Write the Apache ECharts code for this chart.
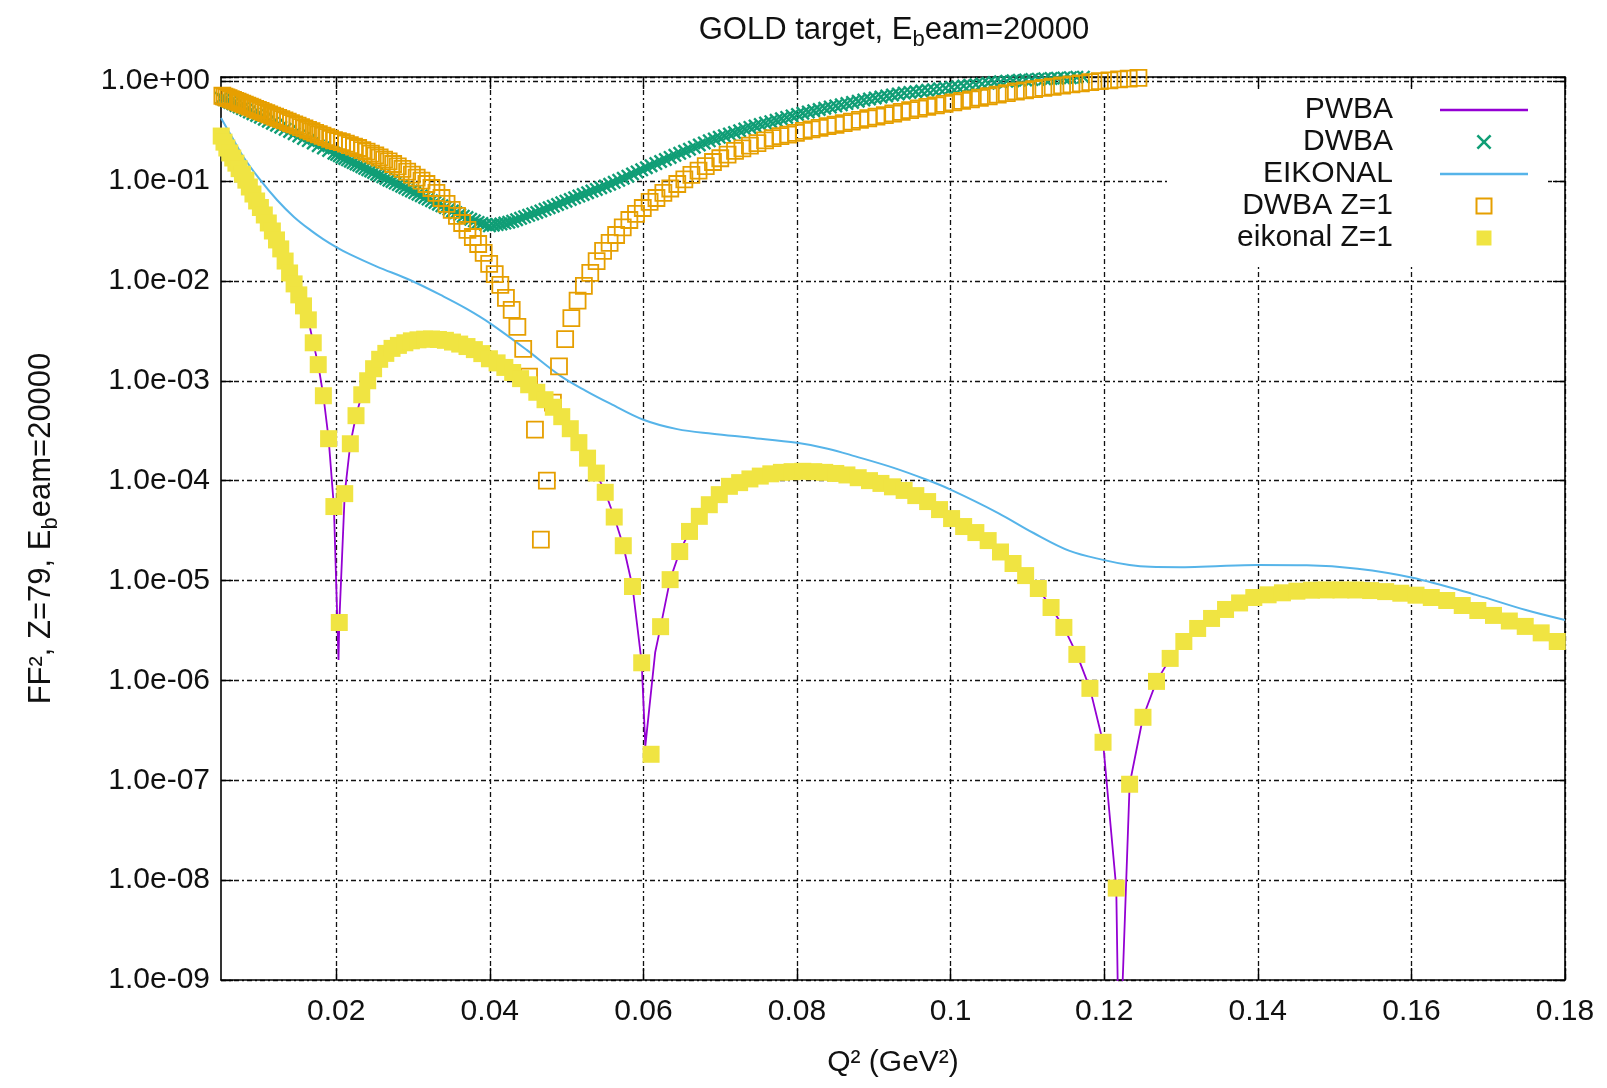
<!DOCTYPE html>
<html>
<head>
<meta charset="utf-8">
<script src="https://cdn.jsdelivr.net/npm/echarts@6/dist/echarts.min.js"></script>
<style>
html,body{margin:0;padding:0;background:#fff}
#c{width:1607px;height:1088px}
</style>
</head>
<body>
<div id="c"></div>
<script>
// ---------- tick labels ----------
const xTicks = [0.02, 0.04, 0.06, 0.08, 0.1, 0.12, 0.14, 0.16, 0.18];

// ---------- eikonal Z=1 (yellow filled squares) ----------
const q2Grid = [0.00503,0.00539,0.00576,0.00614,0.00653,0.00694,0.00736,0.00779,0.00824,0.00869,
0.00916,0.00964,0.01013,0.01064,0.01116,0.01169,0.01223,0.01278,0.01335,0.01393,
0.01452,0.01513,0.01574,0.01637,0.01701,0.01766,0.01833,0.01901,0.01970,0.02040,
0.02111,0.02184,0.02258,0.02333,0.02410,0.02487,0.02566,0.02646,0.02727,0.02810,
0.02894,0.02979,0.03065,0.03152,0.03241,0.03331,0.03422,0.03514,0.03608,0.03703,
0.03799,0.03896,0.03995,0.04095,0.04196,0.04298,0.04401,0.04506,0.04612,0.04719,
0.04827,0.04937,0.05048,0.05160,0.05273,0.05387,0.05503,0.05620,0.05738,0.05858,
0.05978,0.06100,0.06224,0.06348,0.06473,0.06600,0.06728,0.06858,0.06988,0.07120,
0.07253,0.07387,0.07522,0.07659,0.07797,0.07936,0.08076,0.08218,0.08361,0.08505,
0.08650,0.08797,0.08944,0.09093,0.09243,0.09395,0.09547,0.09701,0.09856,0.10013,
0.10170,0.10329,0.10489,0.10650,0.10813,0.10977,0.11142,0.11308,0.11475,0.11644,
0.11814,0.11985,0.12157,0.12331,0.12505,0.12681,0.12859,0.13037,0.13217,0.13398,
0.13580,0.13763,0.13948,0.14134,0.14321,0.14509,0.14699,0.14890,0.15082,0.15275,
0.15469,0.15665,0.15862,0.16060,0.16259,0.16460,0.16662,0.16865,0.17069,0.17275,
0.17482,0.17690,0.17899];
const eikonalZ1 = [2.82e-1,2.45e-1,2.14e-1,1.91e-1,1.70e-1,1.51e-1,1.33e-1,1.17e-1,1.02e-1,8.71e-2,
7.41e-2,6.31e-2,5.43e-2,4.57e-2,3.80e-2,3.16e-2,2.57e-2,2.09e-2,1.58e-2,1.20e-2,
9.33e-3,7.24e-3,5.62e-3,4.07e-3,2.40e-3,1.45e-3,7.08e-4,2.63e-4,5.50e-5,3.80e-6,
7.41e-5,2.34e-4,4.47e-4,7.24e-4,1.00e-3,1.32e-3,1.64e-3,1.88e-3,2.11e-3,2.26e-3,
2.40e-3,2.51e-3,2.57e-3,2.61e-3,2.62e-3,2.59e-3,2.54e-3,2.44e-3,2.33e-3,2.20e-3,
2.05e-3,1.87e-3,1.66e-3,1.51e-3,1.36e-3,1.21e-3,1.05e-3,9.12e-4,7.67e-4,6.46e-4,
5.43e-4,4.37e-4,3.31e-4,2.40e-4,1.68e-4,1.19e-4,7.64e-5,4.32e-5,2.23e-5,8.71e-6,
1.50e-6,1.82e-7,3.45e-6,1.02e-5,1.95e-5,3.10e-5,4.39e-5,5.74e-5,7.24e-5,8.77e-5,
9.55e-5,1.04e-4,1.11e-4,1.17e-4,1.21e-4,1.23e-4,1.24e-4,1.23e-4,1.21e-4,1.18e-4,
1.14e-4,1.07e-4,1.00e-4,9.38e-5,8.67e-5,7.98e-5,7.08e-5,6.17e-5,5.13e-5,4.17e-5,
3.47e-5,3.02e-5,2.51e-5,1.93e-5,1.48e-5,1.12e-5,8.32e-6,5.37e-6,3.39e-6,1.82e-6,
8.32e-7,2.40e-7,8.32e-9,9.12e-8,4.27e-7,9.77e-7,1.66e-6,2.45e-6,3.31e-6,4.17e-6,
5.13e-6,5.96e-6,6.76e-6,7.19e-6,7.53e-6,7.82e-6,8.00e-6,8.05e-6,8.05e-6,8.04e-6,
7.93e-6,7.74e-6,7.46e-6,7.13e-6,6.76e-6,6.31e-6,5.62e-6,5.01e-6,4.47e-6,3.93e-6,
3.47e-6,2.99e-6,2.45e-6];

// ---------- DWBA (green crosses) ----------
const q2Dwba = [0.00503,0.00539,0.00576,0.00614,0.00653,0.00694,0.00736,0.00779,0.00824,0.00869,
0.00916,0.00964,0.01013,0.01064,0.01116,0.01169,0.01223,0.01278,0.01335,0.01393,
0.01452,0.01513,0.01574,0.01637,0.01701,0.01766,0.01833,0.01901,0.01970,
0.02005,0.02040,0.02075,0.02111,0.02147,0.02184,0.02221,0.02258,0.02295,0.02333,
0.02371,0.02410,0.02448,0.02487,0.02526,0.02566,0.02606,0.02646,0.02686,0.02727,
0.02768,0.02810,0.02852,0.02894,0.02936,0.02979,0.03022,0.03065,0.03108,0.03152,
0.03196,0.03241,0.03286,0.03331,0.03376,0.03422,0.03468,0.03514,0.03561,0.03608,
0.03655,0.03703,0.03751,0.03799,0.03847,0.03896,0.03945,0.03995,0.04045,0.04095,
0.04145,0.04196,0.04247,0.04298,0.04349,0.04401,0.04453,0.04506,0.04559,0.04612,
0.04665,0.04719,0.04773,0.04827,0.04882,0.04937,0.04992,0.05048,0.05104,0.05160,
0.05216,0.05273,0.05330,0.05387,0.05445,0.05503,0.05561,0.05620,0.05679,0.05738,
0.05798,0.05858,0.05918,0.05978,0.06039,0.06100,0.06162,0.06224,0.06286,0.06348,
0.06410,0.06473,0.06536,0.06600,0.06664,0.06728,0.06793,0.06858,0.06923,0.06988,
0.07054,0.07120,0.07186,0.07253,0.07320,0.07387,0.07454,0.07522,0.07590,0.07659,
0.07728,0.07797,0.07866,0.07936,0.08006,0.08076,0.08147,0.08218,0.08289,0.08361,
0.08433,0.08505,0.08577,0.08650,0.08723,0.08797,0.08870,0.08944,0.09018,0.09093,
0.09168,0.09243,0.09319,0.09395,0.09471,0.09547,0.09624,0.09701,0.09778,0.09856,
0.09934,0.10013,0.10091,0.10170,0.10249,0.10329,0.10409,0.10489,0.10569,0.10650,
0.10731,0.10813,0.10895,0.10977,0.11059,0.11142,0.11225,0.11308,0.11391,0.11475,
0.11559,0.11644,0.11729];
const dwba = [0.674,0.653,0.633,0.612,0.593,0.571,0.551,0.531,0.511,0.492,
0.472,0.453,0.435,0.415,0.397,0.379,0.362,0.345,0.329,0.313,
0.297,0.282,0.267,0.254,0.240,0.226,0.214,0.202,0.190,
0.185,0.179,0.173,0.168,0.163,0.158,0.153,0.148,0.144,0.139,
0.134,0.130,0.126,0.122,0.117,0.114,0.110,0.106,0.102,0.0989,
0.0953,0.0920,0.0887,0.0855,0.0824,0.0794,0.0766,0.0738,0.0711,0.0684,
0.0659,0.0634,0.0610,0.0586,0.0564,0.0542,0.0521,0.0501,0.0481,0.0461,
0.0445,0.0430,0.0414,0.0399,0.0385,0.0376,0.0366,0.0356,0.0361,0.0366,
0.0372,0.0379,0.0386,0.0396,0.0409,0.0423,0.0438,0.0453,0.0468,0.0484,
0.0501,0.0520,0.0540,0.0560,0.0582,0.0605,0.0628,0.0653,0.0679,0.0706,
0.0733,0.0762,0.0792,0.0824,0.0857,0.0891,0.0927,0.0970,0.1016,0.1067,
0.1119,0.1175,0.1233,0.1294,0.1358,0.1422,0.1493,0.1567,0.1641,0.1722,
0.1807,0.1892,0.1986,0.2080,0.2183,0.2291,0.2404,0.2523,0.2636,0.2735,
0.2838,0.2951,0.3062,0.3184,0.3311,0.3443,0.3556,0.3673,0.3802,0.3926,
0.4055,0.4198,0.4335,0.4487,0.4634,0.4764,0.4909,0.5047,0.5200,0.5346,
0.5495,0.5649,0.5794,0.5957,0.6124,0.6295,0.6457,0.6622,0.6776,0.6934,
0.7096,0.7261,0.7430,0.7586,0.7709,0.7834,0.7962,0.8091,0.8222,0.8375,
0.8511,0.8650,0.8790,0.8933,0.9078,0.9226,0.9376,0.9528,0.9683,0.9840,
1.000,1.009,1.019,1.028,1.037,1.047,1.054,1.062,1.069,1.076,
1.084,1.091,1.096];

// ---------- DWBA Z=1 (orange open squares) ----------
const q2DwbaZ1 = [0.00518,0.00545,0.00571,0.00599,0.00627,0.00656,0.00685,0.00716,0.00746,0.00778,
0.00810,0.00843,0.00876,0.00910,0.00945,0.00980,0.01016,0.01053,0.01090,0.01128,
0.01166,0.01205,0.01245,0.01286,0.01327,0.01369,0.01411,0.01454,0.01498,0.01542,
0.01587,0.01633,0.01679,0.01726,0.01774,0.01822,0.01871,0.01921,0.01971,0.02022,
0.02073,0.02126,0.02178,0.02232,0.02286,0.02341,0.02396,0.02452,0.02509,0.02566,
0.02624,0.02683,0.02742,0.02802,0.02863,0.02924,0.02986,0.03048,0.03111,0.03175,
0.03240,0.03305,0.03371,0.03437,0.03504,0.03572,0.03640,0.03709,0.03779,0.03849,
0.03920,0.03992,0.04064,0.04137,0.04210,0.04285,0.04359,0.04435,0.04511,0.04588,
0.04665,0.04743,0.04822,0.04901,0.04981,0.05062,0.05143,0.05225,0.05308,0.05391,
0.05475,0.05560,0.05645,0.05731,0.05817,0.05904,0.05992,0.06081,0.06170,0.06260,
0.06350,0.06441,0.06533,0.06625,0.06718,0.06812,0.06906,0.07001,0.07096,0.07193,
0.07289,0.07387,0.07485,0.07584,0.07683,0.07784,0.07884,0.07986,0.08088,0.08190,
0.08294,0.08398,0.08502,0.08608,0.08714,0.08820,0.08928,0.09035,0.09144,0.09253,
0.09363,0.09473,0.09585,0.09696,0.09809,0.09922,0.10036,0.10150,0.10265,0.10381,
0.10497,0.10614,0.10732,0.10850,0.10969,0.11088,0.11208,0.11329,0.11451,0.11573,
0.11696,0.11819,0.11943,0.12068,0.12193,0.12319,0.12446];
const dwbaZ1 = [7.14e-1,7.01e-1,6.89e-1,6.76e-1,6.62e-1,6.49e-1,6.35e-1,6.22e-1,6.08e-1,5.96e-1,
5.82e-1,5.69e-1,5.56e-1,5.42e-1,5.28e-1,5.16e-1,5.04e-1,4.90e-1,4.78e-1,4.65e-1,
4.52e-1,4.40e-1,4.28e-1,4.16e-1,4.04e-1,3.92e-1,3.80e-1,3.69e-1,3.58e-1,3.47e-1,
3.36e-1,3.25e-1,3.15e-1,3.04e-1,2.94e-1,2.84e-1,2.75e-1,2.65e-1,2.56e-1,2.51e-1,
2.45e-1,2.37e-1,2.29e-1,2.21e-1,2.14e-1,2.04e-1,1.97e-1,1.88e-1,1.80e-1,1.72e-1,
1.64e-1,1.57e-1,1.48e-1,1.40e-1,1.32e-1,1.24e-1,1.16e-1,1.08e-1,1.01e-1,9.33e-2,
8.51e-2,7.59e-2,6.76e-2,5.89e-2,5.13e-2,4.47e-2,3.80e-2,3.24e-2,2.75e-2,2.34e-2,
1.91e-2,1.48e-2,1.17e-2,9.12e-3,6.76e-3,5.13e-3,3.47e-3,2.09e-3,1.10e-3,3.24e-4,
2.57e-5,1.00e-4,6.03e-4,1.39e-3,2.61e-3,4.24e-3,6.35e-3,8.91e-3,1.20e-2,1.58e-2,
2.00e-2,2.40e-2,2.88e-2,3.43e-2,4.07e-2,4.68e-2,5.37e-2,6.17e-2,6.76e-2,7.59e-2,
8.41e-2,9.33e-2,1.04e-1,1.15e-1,1.27e-1,1.41e-1,1.55e-1,1.69e-1,1.84e-1,2.00e-1,
2.12e-1,2.26e-1,2.40e-1,2.55e-1,2.69e-1,2.82e-1,2.92e-1,3.03e-1,3.18e-1,3.29e-1,
3.41e-1,3.54e-1,3.66e-1,3.79e-1,3.94e-1,4.09e-1,4.25e-1,4.41e-1,4.57e-1,4.74e-1,
4.93e-1,5.13e-1,5.32e-1,5.52e-1,5.71e-1,5.92e-1,6.12e-1,6.35e-1,6.58e-1,6.82e-1,
7.06e-1,7.33e-1,7.59e-1,7.87e-1,8.09e-1,8.32e-1,8.55e-1,8.79e-1,9.04e-1,9.27e-1,
9.51e-1,9.77e-1,1.00,1.02,1.04,1.06,1.08];

// ---------- PWBA (purple line) ----------
const q2Pwba = [0.00503,0.00614,0.00736,0.00869,0.01013,0.01169,0.01335,0.01452,0.01574,0.01637,
0.01701,0.01766,0.01833,0.01901,0.01970,0.02030,0.02040,0.02111,0.02184,0.02258,
0.02333,0.02410,0.02487,0.02646,0.02810,0.02979,0.03152,0.03331,0.03514,0.03703,
0.03896,0.04095,0.04298,0.04506,0.04719,0.04937,0.05160,0.05273,0.05387,0.05503,
0.05620,0.05738,0.05858,0.05978,0.06025,0.06153,0.06224,0.06348,0.06473,0.06600,
0.06728,0.06858,0.06988,0.07253,0.07522,0.07797,0.08076,0.08361,0.08650,0.08944,
0.09243,0.09547,0.09856,0.10170,0.10489,0.10813,0.10977,0.11142,0.11308,0.11475,
0.11644,0.11814,0.11985,0.12157,0.12195,0.12331,0.12505,0.12681,0.12859,0.13037,
0.13217,0.13398,0.13580,0.13948,0.14321,0.14699,0.15082,0.15469,0.15862,0.16259,
0.16662,0.17069,0.17482,0.17899];
const pwba = [2.82e-1,1.91e-1,1.33e-1,8.71e-2,5.43e-2,3.16e-2,1.58e-2,9.33e-3,5.62e-3,4.07e-3,
2.40e-3,1.45e-3,7.08e-4,2.63e-4,5.50e-5,1.60e-6,3.80e-6,7.41e-5,2.34e-4,4.47e-4,
7.24e-4,1.00e-3,1.32e-3,1.88e-3,2.26e-3,2.51e-3,2.61e-3,2.59e-3,2.44e-3,2.20e-3,
1.87e-3,1.51e-3,1.21e-3,9.12e-4,6.46e-4,4.37e-4,2.40e-4,1.68e-4,1.19e-4,7.64e-5,
4.32e-5,2.23e-5,8.71e-6,1.50e-6,2.20e-7,1.90e-6,3.45e-6,1.02e-5,1.95e-5,3.10e-5,
4.39e-5,5.74e-5,7.24e-5,9.55e-5,1.11e-4,1.21e-4,1.24e-4,1.21e-4,1.14e-4,1.00e-4,
8.67e-5,7.08e-5,5.13e-5,3.47e-5,2.51e-5,1.48e-5,1.12e-5,8.32e-6,5.37e-6,3.39e-6,
1.82e-6,8.32e-7,2.40e-7,8.32e-9,1.00e-10,9.12e-8,4.27e-7,9.77e-7,1.66e-6,2.45e-6,
3.31e-6,4.17e-6,5.13e-6,6.76e-6,7.53e-6,8.00e-6,8.05e-6,7.93e-6,7.46e-6,6.76e-6,
5.62e-6,4.47e-6,3.47e-6,2.45e-6];

// ---------- EIKONAL (light blue line) ----------
const q2Eik = [0.0050,0.0065,0.0079,0.0100,0.0123,0.0145,0.0166,0.0183,0.0200,0.0218,
0.0253,0.0296,0.0340,0.0370,0.0400,0.0448,0.0492,0.0525,0.0557,0.0600,
0.0644,0.0690,0.0740,0.0800,0.0840,0.0876,0.0925,0.0969,0.1000,0.1062,
0.1108,0.1155,0.1200,0.1233,0.1260,0.1300,0.1335,0.1400,0.1464,0.1530,
0.1600,0.1684,0.1749,0.1800];
const eikonal = [4.27e-1,2.70e-1,1.75e-1,1.05e-1,6.46e-2,4.37e-2,3.24e-2,2.62e-2,2.18e-2,1.84e-2,
1.39e-2,1.02e-2,6.97e-3,5.25e-3,3.78e-3,2.04e-3,1.12e-3,7.94e-4,5.90e-4,4.07e-4,
3.28e-4,2.95e-4,2.69e-4,2.39e-4,2.09e-4,1.75e-4,1.35e-4,1.02e-4,8.13e-5,4.74e-5,
2.99e-5,1.98e-5,1.60e-5,1.43e-5,1.37e-5,1.36e-5,1.38e-5,1.43e-5,1.42e-5,1.31e-5,
1.07e-5,7.18e-6,5.06e-6,4.02e-6];

function zip(xs, ys) {
  const n = Math.min(xs.length, ys.length);
  const out = [];
  for (let i = 0; i < n; i++) out.push([xs[i], ys[i]]);
  return out;
}

const FONT = '"Liberation Sans", Arial, Helvetica, sans-serif';
const TXT = '#111111';
const FS = 30;
const X_PATH = 'path://M0,1.2L1.2,0L5,3.8L8.8,0L10,1.2L6.2,5L10,8.8L8.8,10L5,6.2L1.2,10L0,8.8L3.8,5Z';
const SQ_PATH = 'path://M0,0L10,0L10,10L0,10Z';
const LINE_ICON = 'path://M0,0L100,0L100,2.6L0,2.6Z';

const gridLineStyle = { color: '#111', type: [5, 3, 2, 3], width: 1.3 };
const axisLineStyle = { color: '#000', width: 1.6 };

const chart = echarts.init(document.getElementById('c'), null, { renderer: 'canvas' });

const option = {
  animation: false,
  backgroundColor: '#ffffff',
  textStyle: { fontFamily: FONT },
  title: {
    text: '{a|GOLD target, E}{sub|b}{a|eam=20000}',
    left: 894, top: 9, textAlign: 'center', padding: 0,
    textStyle: {
      fontWeight: 'normal',
      rich: {
        a: { fontSize: 31, fontFamily: FONT, fontWeight: 'normal', color: TXT, lineHeight: 42, verticalAlign: 'middle' },
        sub: { fontSize: 22, fontFamily: FONT, fontWeight: 'normal', color: TXT, lineHeight: 22, verticalAlign: 'bottom' }
      }
    }
  },
  legend: {
    orient: 'vertical',
    right: 59, top: 90,
    align: 'right',
    itemWidth: 88, itemHeight: 15, itemGap: 2,
    padding: [5, 20, 12, 70],
    backgroundColor: '#ffffff',
    selectedMode: false,
    symbolKeepAspect: true,
    textStyle: { fontFamily: FONT, fontSize: FS, color: TXT, lineHeight: 30, padding: [0, 42, 0, 0] },
    data: [
      { name: 'PWBA', icon: LINE_ICON },
      'DWBA',
      { name: 'EIKONAL', icon: LINE_ICON },
      'DWBA Z=1',
      'eikonal Z=1'
    ]
  },
  grid: { left: 221, right: 42, top: 77, bottom: 108, outerBoundsMode: 'none', containLabel: false },
  xAxis: [
    {
      type: 'value', min: 0.005, max: 0.18, splitNumber: 9,
      name: 'Q² (GeV²)', nameLocation: 'middle', nameGap: 68,
      nameTextStyle: { fontFamily: FONT, fontSize: FS, color: TXT },
      axisLine: { show: true, onZero: false, lineStyle: axisLineStyle },
      axisTick: { show: true, inside: true, length: 12, customValues: xTicks, lineStyle: { color: '#000', width: 1.4 } },
      axisLabel: { show: true, customValues: xTicks, margin: 17, fontFamily: FONT, fontSize: FS, color: TXT },
      splitLine: { show: true, lineStyle: gridLineStyle }
    },
    {
      type: 'value', min: 0.005, max: 0.18, splitNumber: 9, position: 'top',
      axisLine: { show: true, onZero: false, lineStyle: axisLineStyle },
      axisTick: { show: true, inside: true, length: 12, customValues: xTicks, lineStyle: { color: '#000', width: 1.4 } },
      axisLabel: { show: false },
      splitLine: { show: false }
    }
  ],
  yAxis: [
    {
      type: 'log', logBase: 10, min: 1e-9, max: 1.1,
      name: '{a|FF², Z=79, E}{sub|b}{a|eam=20000}', nameLocation: 'middle', nameGap: 159,
      nameTextStyle: {
        rich: {
          a: { fontSize: 31, fontFamily: FONT, color: TXT, lineHeight: 42, verticalAlign: 'middle' },
          sub: { fontSize: 22, fontFamily: FONT, color: TXT, lineHeight: 22, verticalAlign: 'bottom' }
        }
      },
      axisLine: { show: true, onZero: false, lineStyle: axisLineStyle },
      axisTick: { show: true, inside: true, length: 12, lineStyle: { color: '#000', width: 1.4 } },
      axisLabel: {
        show: true, margin: 11, fontFamily: FONT, fontSize: FS, color: TXT,
        formatter: function (v) {
          const e = Math.log10(v);
          const r = Math.round(e);
          if (Math.abs(e - r) > 1e-6) return '';
          return '1.0e' + (r < 0 ? '-' : '+') + String(Math.abs(r)).padStart(2, '0');
        }
      },
      splitLine: { show: true, lineStyle: gridLineStyle },
      minorTick: { show: false }
    },
    {
      type: 'log', logBase: 10, min: 1e-9, max: 1.1, position: 'right',
      axisLine: { show: true, onZero: false, lineStyle: axisLineStyle },
      axisTick: { show: true, inside: true, length: 12, lineStyle: { color: '#000', width: 1.4 } },
      axisLabel: { show: false },
      splitLine: { show: false }
    }
  ],
  series: [
    {
      name: 'PWBA', type: 'line', xAxisIndex: 0, yAxisIndex: 0,
      data: zip(q2Pwba, pwba),
      symbol: 'none', smooth: false, clip: true,
      lineStyle: { color: '#9400d3', width: 1.8 },
      itemStyle: { color: '#9400d3' },
      z: 2
    },
    {
      name: 'DWBA', type: 'scatter', xAxisIndex: 0, yAxisIndex: 0,
      data: zip(q2Dwba, dwba),
      symbol: X_PATH, symbolSize: 14, symbolKeepAspect: true, clip: true,
      itemStyle: { color: '#109e76', opacity: 1 },
      z: 3
    },
    {
      name: 'EIKONAL', type: 'line', xAxisIndex: 0, yAxisIndex: 0,
      data: zip(q2Eik, eikonal),
      symbol: 'none', smooth: 0.35, clip: true,
      lineStyle: { color: '#56b4e9', width: 2 },
      itemStyle: { color: '#56b4e9' },
      z: 4
    },
    {
      name: 'DWBA Z=1', type: 'scatter', xAxisIndex: 0, yAxisIndex: 0,
      data: zip(q2DwbaZ1, dwbaZ1),
      symbol: SQ_PATH, symbolSize: 16, symbolKeepAspect: true, clip: true,
      itemStyle: { color: 'rgba(255,255,255,0)', borderColor: '#e69f00', borderWidth: 1.8, opacity: 1 },
      z: 5
    },
    {
      name: 'eikonal Z=1', type: 'scatter', xAxisIndex: 0, yAxisIndex: 0,
      data: zip(q2Grid, eikonalZ1),
      symbol: SQ_PATH, symbolSize: 17, symbolKeepAspect: true, clip: true,
      itemStyle: { color: '#f0e442', opacity: 1 },
      z: 6
    }
  ]
};

chart.setOption(option);
</script>
</body>
</html>
